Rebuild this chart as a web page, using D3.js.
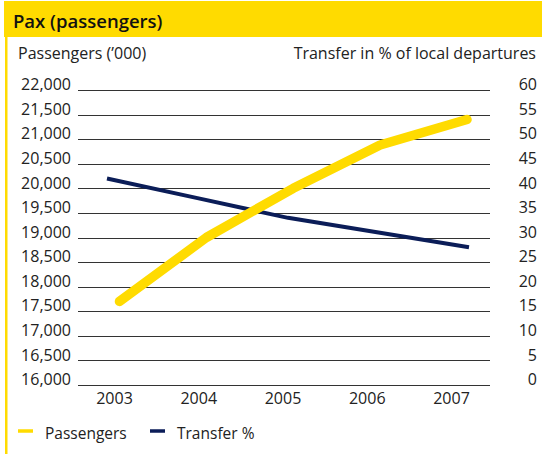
<!DOCTYPE html>
<html>
<head>
<meta charset="utf-8">
<script src="https://cdn.jsdelivr.net/npm/d3@7"></script>
<style>
  html, body { margin: 0; padding: 0; background: #fff; }
  svg { display: block; font-family: "Open Sans", "Noto Sans", sans-serif; }
</style>
</head>
<body>
<svg id="chart" width="542" height="454"></svg>
<script>
// Passenger volume ('000) and transfer share, 2003-2007
const years = ["2003", "2004", "2005", "2006", "2007"];
const passengers = [17700, 19000, 20000, 20880, 21400];
const transferPct = [42, 38, 34, 31, 28];
const leftTicks = [16000, 16500, 17000, 17500, 18000, 18500, 19000, 19500, 20000, 20500, 21000, 21500, 22000];
const rightTicks = [0, 5, 10, 15, 20, 25, 30, 35, 40, 45, 50, 55, 60];

const YELLOW = "#ffdb00";
const NAVY = "#0b1d58";

const svg = d3.select("#chart");
const W = 542, H = 454;

// Header band and left rule
svg.append("rect").attr("x", 4).attr("y", 1).attr("width", W - 4).attr("height", 36).attr("fill", YELLOW);
svg.append("rect").attr("x", 5).attr("y", 37).attr("width", 2.5).attr("height", H - 37).attr("fill", YELLOW);

svg.append("text").attr("x", 13).attr("y", 28).attr("font-size", 18.5).attr("font-weight", 600)
  .attr("fill", "#111").text("Pax (passengers)");

svg.append("text").attr("x", 18).attr("y", 59).attr("font-size", 16).attr("fill", "#222")
  .text("Passengers (\u2019000)");
svg.append("text").attr("x", 536).attr("y", 59).attr("font-size", 16).attr("fill", "#222")
  .attr("text-anchor", "end").text("Transfer in % of local departures");

// Scales
const plotL = 78, plotR = 490, plotT = 90, plotB = 385;
const yLeft = d3.scaleLinear().domain([16000, 22000]).range([plotB, plotT]);
const yRight = d3.scaleLinear().domain([0, 60]).range([plotB, plotT]);
const xLabel = d3.scalePoint().domain(years).range([114, 451]);
const xPax = d3.scalePoint().domain(years).range([119.5, 467]);
const xTransfer = d3.scalePoint().domain(years).range([107, 469]);

// Gridlines
svg.append("g").selectAll("line").data(leftTicks).join("line")
  .attr("x1", plotL).attr("x2", plotR)
  .attr("y1", d => Math.round(yLeft(d)) + 0.5).attr("y2", d => Math.round(yLeft(d)) + 0.5)
  .attr("stroke", "#333").attr("stroke-width", 1.2);

// Left axis labels
const leftAxis = d3.axisLeft(yLeft).tickValues(leftTicks).tickFormat(d3.format(",")).tickSize(0).tickPadding(0);
const gl = svg.append("g").attr("transform", "translate(71,0)").call(leftAxis);
gl.select(".domain").remove();
gl.selectAll("text").attr("font-size", 16).attr("fill", "#222").attr("font-family", "Open Sans, sans-serif").attr("dy", "-0.02em");

// Right axis labels
const rightAxis = d3.axisRight(yRight).tickValues(rightTicks).tickSize(0).tickPadding(0);
const gr = svg.append("g").attr("transform", "translate(537,0)").call(rightAxis);
gr.select(".domain").remove();
gr.selectAll("text").attr("font-size", 16).attr("fill", "#222").attr("font-family", "Open Sans, sans-serif")
  .attr("text-anchor", "end").attr("dy", "-0.02em");

// Year labels
const bottomAxis = d3.axisBottom(xLabel).tickSize(0).tickPadding(0);
const gb = svg.append("g").attr("transform", "translate(0,393)").call(bottomAxis);
gb.select(".domain").remove();
gb.selectAll("text").attr("font-size", 16).attr("fill", "#222").attr("font-family", "Open Sans, sans-serif");

// Series lines
const paxLine = d3.line().x((d, i) => xPax(years[i])).y(d => yLeft(d));
const trLine = d3.line().x((d, i) => xTransfer(years[i])).y(d => yRight(d));

svg.append("path").datum(transferPct).attr("d", trLine)
  .attr("fill", "none").attr("stroke", NAVY).attr("stroke-width", 4);
svg.append("path").datum(passengers).attr("d", paxLine)
  .attr("fill", "none").attr("stroke", YELLOW).attr("stroke-width", 9.5)
  .attr("stroke-linecap", "round").attr("stroke-linejoin", "round");

// Legend
const legend = [
  { name: "Passengers", color: YELLOW, x: 18 },
  { name: "Transfer %", color: NAVY, x: 150 }
];
const lg = svg.append("g").selectAll("g").data(legend).join("g");
lg.append("line").attr("x1", d => d.x).attr("x2", d => d.x + 15)
  .attr("y1", 431).attr("y2", 431).attr("stroke", d => d.color).attr("stroke-width", 3.5);
lg.append("text").attr("x", d => d.x + 27).attr("y", 439).attr("font-size", 15.5).attr("fill", "#222")
  .text(d => d.name);
</script>
</body>
</html>
